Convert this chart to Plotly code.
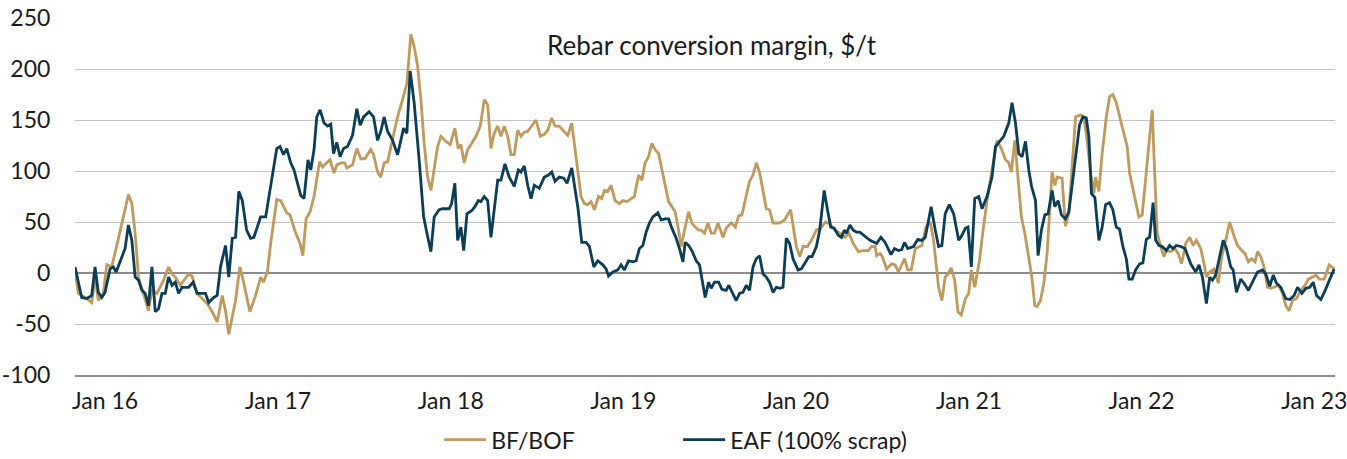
import math
import pandas as pd
import plotly.graph_objects as go

# Time stamps are decimal years (weekly series)
bof_time = [2015.826, 2015.845, 2015.884, 2015.923, 2015.942, 2015.961, 2015.990, 2016.010, 2016.039, 2016.068,
            2016.106, 2016.135, 2016.155, 2016.174, 2016.193, 2016.222, 2016.251, 2016.271, 2016.300, 2016.338,
            2016.367, 2016.387, 2016.406, 2016.435, 2016.483, 2016.503, 2016.532, 2016.561, 2016.590, 2016.619,
            2016.648, 2016.677, 2016.696, 2016.715, 2016.754, 2016.779, 2016.802, 2016.837, 2016.870, 2016.899,
            2016.915, 2016.938, 2016.957, 2016.992, 2017.015, 2017.050, 2017.069, 2017.096, 2017.115, 2017.127,
            2017.143, 2017.162, 2017.185, 2017.208, 2017.240, 2017.257, 2017.282, 2017.301, 2017.324, 2017.340,
            2017.367, 2017.386, 2017.398, 2017.431, 2017.456, 2017.479, 2017.502, 2017.537, 2017.553, 2017.576,
            2017.595, 2017.614, 2017.634, 2017.663, 2017.692, 2017.721, 2017.746, 2017.769, 2017.788, 2017.808,
            2017.827, 2017.846, 2017.866, 2017.885, 2017.904, 2017.924, 2017.943, 2017.972, 2017.997, 2018.024,
            2018.043, 2018.059, 2018.078, 2018.098, 2018.121, 2018.146, 2018.171, 2018.194, 2018.214, 2018.233,
            2018.252, 2018.272, 2018.291, 2018.310, 2018.330, 2018.349, 2018.368, 2018.388, 2018.407, 2018.426,
            2018.446, 2018.475, 2018.494, 2018.519, 2018.542, 2018.562, 2018.585, 2018.604, 2018.629, 2018.655,
            2018.678, 2018.701, 2018.716, 2018.736, 2018.755, 2018.774, 2018.794, 2018.813, 2018.832, 2018.856,
            2018.875, 2018.890, 2018.910, 2018.929, 2018.952, 2018.977, 2018.997, 2019.022, 2019.045, 2019.064,
            2019.088, 2019.107, 2019.126, 2019.146, 2019.165, 2019.184, 2019.204, 2019.223, 2019.242, 2019.262,
            2019.281, 2019.300, 2019.320, 2019.335, 2019.358, 2019.378, 2019.397, 2019.416, 2019.436, 2019.451,
            2019.470, 2019.490, 2019.509, 2019.528, 2019.548, 2019.577, 2019.596, 2019.625, 2019.649, 2019.668,
            2019.687, 2019.707, 2019.731, 2019.751, 2019.770, 2019.789, 2019.809, 2019.828, 2019.847, 2019.867,
            2019.905, 2019.934, 2019.969, 2019.983, 2020.002, 2020.022, 2020.041, 2020.066, 2020.089, 2020.118,
            2020.143, 2020.171, 2020.196, 2020.225, 2020.254, 2020.282, 2020.306, 2020.331, 2020.360, 2020.389,
            2020.418, 2020.437, 2020.457, 2020.466, 2020.486, 2020.499, 2020.524, 2020.553, 2020.573, 2020.592,
            2020.611, 2020.627, 2020.646, 2020.666, 2020.689, 2020.712, 2020.727, 2020.751, 2020.776, 2020.795,
            2020.809, 2020.824, 2020.843, 2020.862, 2020.878, 2020.897, 2020.917, 2020.936, 2020.955, 2020.979,
            2020.998, 2021.013, 2021.033, 2021.060, 2021.079, 2021.104, 2021.133, 2021.162, 2021.187, 2021.211,
            2021.230, 2021.245, 2021.265, 2021.284, 2021.303, 2021.323, 2021.346, 2021.362, 2021.381, 2021.394,
            2021.414, 2021.433, 2021.452, 2021.466, 2021.481, 2021.497, 2021.510, 2021.539, 2021.558, 2021.578,
            2021.597, 2021.617, 2021.646, 2021.665, 2021.684, 2021.704, 2021.723, 2021.733, 2021.752, 2021.771,
            2021.795, 2021.814, 2021.833, 2021.853, 2021.877, 2021.897, 2021.916, 2021.930, 2021.955, 2021.984,
            2022.003, 2022.023, 2022.042, 2022.061, 2022.077, 2022.090, 2022.110, 2022.129, 2022.143, 2022.168,
            2022.193, 2022.212, 2022.231, 2022.255, 2022.278, 2022.298, 2022.317, 2022.342, 2022.361, 2022.375,
            2022.394, 2022.419, 2022.444, 2022.464, 2022.487, 2022.510, 2022.530, 2022.555, 2022.580, 2022.599,
            2022.618, 2022.637, 2022.657, 2022.671, 2022.690, 2022.709, 2022.729, 2022.748, 2022.767, 2022.792,
            2022.816, 2022.835, 2022.854, 2022.874, 2022.897, 2022.922, 2022.947, 2022.966, 2022.990, 2023.009,
            2023.029, 2023.058, 2023.086, 2023.115]
bof_margin = [3, -20, -24, -29, -4, -27, -20, 8, 6, 26,
              55, 77, 68, 39, -4, -20, -37, -17, -20, -7,
              6, -1, -4, -12, -1, -3, -20, -25, -30, -38,
              -48, -22, -37, -60, -27, 6, -10, -38, -22, -4,
              -9, 1, 29, 72, 71, 59, 57, 42, 35, 29,
              17, 53, 60, 75, 109, 104, 108, 111, 98, 106,
              108, 108, 103, 106, 122, 112, 112, 121, 116, 99,
              94, 108, 109, 130, 153, 170, 186, 234, 222, 203,
              170, 127, 94, 81, 104, 124, 134, 129, 126, 142,
              122, 126, 108, 121, 127, 134, 144, 170, 165, 122,
              137, 144, 134, 144, 134, 116, 116, 140, 134, 138,
              139, 145, 150, 134, 136, 140, 152, 144, 144, 139,
              135, 147, 127, 104, 75, 68, 67, 70, 62, 75,
              73, 81, 80, 86, 71, 68, 71, 70, 73, 75,
              96, 91, 108, 114, 127, 121, 117, 101, 85, 70,
              65, 60, 42, 26, 45, 60, 49, 45, 42, 42,
              39, 49, 39, 39, 49, 35, 44, 49, 45, 56,
              57, 71, 90, 96, 108, 99, 81, 63, 62, 49,
              49, 52, 62, 45, 26, 16, 26, 26, 32, 42,
              44, 50, 48, 42, 39, 35, 39, 29, 21, 22,
              22, 26, 26, 17, 19, 16, 4, 9, 8, 1,
              8, 14, 3, 3, 24, 26, 27, 45, 50, 32,
              6, -14, -27, -4, -1, 5, -7, -38, -41, -25,
              -20, 3, -14, 12, 39, 71, 101, 130, 122, 111,
              108, 99, 130, 94, 55, 39, 16, -2, -32, -33,
              -27, -10, 19, 55, 99, 86, 94, 93, 46, 58,
              104, 153, 155, 153, 130, 98, 78, 94, 80, 117,
              153, 173, 175, 167, 150, 137, 124, 98, 78, 55,
              57, 94, 130, 160, 91, 39, 26, 16, 22, 21,
              24, 19, 9, 29, 35, 27, 32, 24, 9, -4,
              1, 4, -10, 16, 32, 50, 39, 27, 22, 19,
              11, 14, 11, 21, 16, 6, -14, -15, -14, -12,
              -20, -32, -37, -27, -25, -17, -12, -6, -4, -2,
              -6, -6, 8, 4]

eaf_time = [2015.826, 2015.865, 2015.894, 2015.923, 2015.942, 2015.961, 2015.981, 2016.000, 2016.029, 2016.048,
            2016.064, 2016.087, 2016.116, 2016.135, 2016.155, 2016.174, 2016.193, 2016.213, 2016.232, 2016.251,
            2016.271, 2016.290, 2016.309, 2016.329, 2016.348, 2016.367, 2016.387, 2016.406, 2016.425, 2016.445,
            2016.464, 2016.483, 2016.509, 2016.532, 2016.561, 2016.580, 2016.599, 2016.628, 2016.648, 2016.667,
            2016.696, 2016.715, 2016.735, 2016.754, 2016.773, 2016.793, 2016.818, 2016.841, 2016.860, 2016.899,
            2016.928, 2016.957, 2016.992, 2017.011, 2017.031, 2017.050, 2017.073, 2017.092, 2017.131, 2017.150,
            2017.173, 2017.189, 2017.208, 2017.224, 2017.243, 2017.266, 2017.286, 2017.305, 2017.321, 2017.340,
            2017.359, 2017.379, 2017.402, 2017.431, 2017.456, 2017.475, 2017.495, 2017.527, 2017.553, 2017.576,
            2017.595, 2017.614, 2017.634, 2017.663, 2017.692, 2017.727, 2017.746, 2017.765, 2017.788, 2017.817,
            2017.843, 2017.862, 2017.885, 2017.904, 2017.933, 2017.953, 2017.991, 2018.005, 2018.024, 2018.040,
            2018.059, 2018.075, 2018.094, 2018.121, 2018.140, 2018.160, 2018.175, 2018.194, 2018.214, 2018.233,
            2018.262, 2018.272, 2018.291, 2018.314, 2018.339, 2018.368, 2018.392, 2018.407, 2018.426, 2018.446,
            2018.465, 2018.484, 2018.513, 2018.542, 2018.566, 2018.585, 2018.604, 2018.629, 2018.655, 2018.674,
            2018.701, 2018.716, 2018.736, 2018.759, 2018.784, 2018.803, 2018.829, 2018.852, 2018.881, 2018.900,
            2018.914, 2018.939, 2018.968, 2018.987, 2019.006, 2019.030, 2019.055, 2019.074, 2019.093, 2019.113,
            2019.132, 2019.151, 2019.171, 2019.200, 2019.219, 2019.242, 2019.262, 2019.281, 2019.306, 2019.325,
            2019.345, 2019.358, 2019.378, 2019.397, 2019.422, 2019.441, 2019.474, 2019.494, 2019.509, 2019.528,
            2019.552, 2019.571, 2019.596, 2019.610, 2019.635, 2019.654, 2019.673, 2019.693, 2019.712, 2019.731,
            2019.751, 2019.770, 2019.789, 2019.809, 2019.828, 2019.847, 2019.867, 2019.886, 2019.905, 2019.925,
            2019.944, 2019.963, 2019.983, 2020.012, 2020.031, 2020.050, 2020.074, 2020.093, 2020.118, 2020.137,
            2020.163, 2020.182, 2020.201, 2020.221, 2020.244, 2020.263, 2020.279, 2020.292, 2020.312, 2020.331,
            2020.350, 2020.369, 2020.389, 2020.408, 2020.428, 2020.466, 2020.491, 2020.515, 2020.549, 2020.569,
            2020.592, 2020.611, 2020.627, 2020.646, 2020.679, 2020.704, 2020.727, 2020.747, 2020.781, 2020.805,
            2020.824, 2020.843, 2020.862, 2020.886, 2020.911, 2020.940, 2020.959, 2020.979, 2020.994, 2021.013,
            2021.033, 2021.056, 2021.075, 2021.104, 2021.133, 2021.153, 2021.176, 2021.201, 2021.230, 2021.249,
            2021.269, 2021.288, 2021.307, 2021.327, 2021.346, 2021.362, 2021.385, 2021.400, 2021.419, 2021.439,
            2021.458, 2021.481, 2021.497, 2021.516, 2021.535, 2021.558, 2021.578, 2021.597, 2021.621, 2021.640,
            2021.659, 2021.679, 2021.694, 2021.709, 2021.729, 2021.752, 2021.771, 2021.791, 2021.814, 2021.833,
            2021.853, 2021.872, 2021.891, 2021.911, 2021.926, 2021.945, 2021.965, 2021.988, 2022.007, 2022.027,
            2022.046, 2022.066, 2022.081, 2022.100, 2022.119, 2022.143, 2022.162, 2022.182, 2022.201, 2022.226,
            2022.251, 2022.284, 2022.313, 2022.332, 2022.352, 2022.375, 2022.394, 2022.410, 2022.429, 2022.452,
            2022.472, 2022.491, 2022.516, 2022.530, 2022.549, 2022.574, 2022.593, 2022.618, 2022.641, 2022.671,
            2022.700, 2022.719, 2022.742, 2022.762, 2022.781, 2022.806, 2022.835, 2022.858, 2022.883, 2022.903,
            2022.928, 2022.951, 2022.974, 2022.994, 2023.013, 2023.038, 2023.063, 2023.086, 2023.115]
eaf_margin = [6, -24, -25, -22, 6, -19, -24, -19, 4, 6,
              1, 12, 24, 47, 32, -4, -7, -17, -20, -32,
              6, -38, -35, -20, -20, -4, -12, -9, -20, -14,
              -14, -14, -9, -20, -20, -20, -29, -24, -22, 6,
              27, -4, 34, 35, 80, 71, 42, 34, 35, 55,
              55, 85, 122, 124, 116, 122, 108, 101, 76, 73,
              111, 101, 121, 153, 160, 147, 144, 146, 117, 128,
              114, 122, 124, 135, 161, 145, 153, 158, 153, 130,
              139, 153, 139, 130, 116, 142, 137, 198, 167, 111,
              55, 39, 21, 55, 62, 63, 63, 68, 88, 32,
              45, 22, 58, 61, 65, 71, 70, 75, 71, 35,
              78, 91, 91, 107, 94, 85, 101, 99, 105, 86,
              73, 86, 83, 94, 96, 99, 90, 94, 93, 88,
              103, 88, 65, 30, 30, 26, 6, 12, 8, 4,
              -3, 1, 3, 8, 3, 12, 11, 12, 24, 27,
              40, 49, 55, 59, 52, 53, 53, 44, 34, 24,
              11, 30, 27, 22, 12, 8, -24, -9, -15, -9,
              -9, -16, -17, -12, -20, -27, -20, -19, -12, -17,
              6, 14, 17, -1, -4, -9, -19, -14, -15, -14,
              34, 29, 14, 3, 4, 9, 16, 16, 26, 42,
              81, 62, 45, 44, 37, 35, 42, 39, 47, 42,
              40, 40, 37, 35, 32, 29, 35, 30, 18, 24,
              22, 23, 30, 24, 26, 33, 32, 35, 65, 42,
              26, 27, 58, 67, 58, 32, 37, 44, 45, 6,
              73, 75, 63, 75, 94, 124, 129, 134, 147, 167,
              147, 117, 114, 129, 101, 85, 71, 17, 42, 57,
              58, 81, 65, 71, 57, 53, 60, 85, 117, 145,
              153, 152, 134, 78, 74, 32, 45, 67, 69, 62,
              45, 43, 26, 14, -6, -6, 3, 9, 10, 33,
              35, 69, 32, 27, 26, 22, 27, 24, 27, 26,
              24, 9, 1, 8, -4, -30, -4, -7, -2, 16,
              32, 24, 6, 3, -19, -6, -10, -17, -9, 1,
              3, -1, -13, -2, -10, -14, -25, -26, -22, -14,
              -20, -15, -14, -9, -22, -26, -17, -7, 4]

tick_dates = ["2016-01-01", "2017-01-01", "2018-01-01", "2019-01-01",
              "2020-01-01", "2021-01-01", "2022-01-01", "2023-01-01"]
tick_labels = ["Jan 16", "Jan 17", "Jan 18", "Jan 19", "Jan 20", "Jan 21", "Jan 22", "Jan 23"]
y_ticks = [-100, -50, 0, 50, 100, 150, 200, 250]
y_tick_labels = ["-100", "-50", "0", "50", "100", "150", "200", "250"]

series_names = ["BF/BOF", "EAF (100% scrap)"]
chart_title = "Rebar conversion margin, $/t"


def to_date(t):
    y = int(math.floor(t))
    start = pd.Timestamp(year=y, month=1, day=1)
    end = pd.Timestamp(year=y + 1, month=1, day=1)
    return start + (end - start) * (t - y)


bof_dates = [to_date(t) for t in bof_time]
eaf_dates = [to_date(t) for t in eaf_time]

GOLD = "#BF9A5C"
NAVY = "#0B3D56"
TEXT = "#1a1a1a"
FONT = "Lato, 'Open Sans', sans-serif"

fig = go.Figure()
fig.add_trace(go.Scatter(x=bof_dates, y=bof_margin, mode="lines", name=series_names[0],
                         line=dict(color=GOLD, width=2.8)))
fig.add_trace(go.Scatter(x=eaf_dates, y=eaf_margin, mode="lines", name=series_names[1],
                         line=dict(color=NAVY, width=2.8)))

fig.update_layout(
    width=1347, height=459,
    margin=dict(l=75, r=12, t=18, b=84),
    paper_bgcolor="white", plot_bgcolor="white",
    font=dict(family=FONT, size=23, color=TEXT),
    showlegend=True,
    legend=dict(orientation="h", xref="paper", x=0.289, xanchor="left",
                yref="container", y=0.042, yanchor="middle",
                font=dict(size=23, color=TEXT), itemwidth=42,
                entrywidthmode="pixels", entrywidth=182,
                traceorder="normal", bgcolor="rgba(0,0,0,0)"),
    annotations=[dict(text=chart_title, xref="paper", yref="paper", x=0.5056, y=0.925,
                      xanchor="center", yanchor="middle", showarrow=False,
                      font=dict(size=26, color=TEXT))],
)

fig.update_xaxes(
    type="date",
    range=[to_date(2015.826), to_date(2023.12)],
    tickvals=[pd.Timestamp(d) for d in tick_dates], ticktext=tick_labels,
    showgrid=False, zeroline=False, automargin=False, ticklabeloverflow="allow",
    showline=True, linecolor="#8c8c8c", linewidth=1.5,
    ticks="outside", ticklen=5, tickcolor="rgba(0,0,0,0)",
    tickfont=dict(size=23),
)
fig.update_yaxes(
    range=[-100, 250], tickvals=y_ticks, ticktext=y_tick_labels, automargin=False,
    showgrid=True, gridcolor="#c4c4c4", gridwidth=1,
    zeroline=True, zerolinecolor="#8c8c8c", zerolinewidth=1.5,
    showline=False,
    ticks="outside", ticklen=19, tickcolor="rgba(0,0,0,0)",
    tickfont=dict(size=23),
)

fig.write_html("out.html", config={"displayModeBar": False},
               post_script="document.body.style.margin='0';document.body.style.padding='0';")
